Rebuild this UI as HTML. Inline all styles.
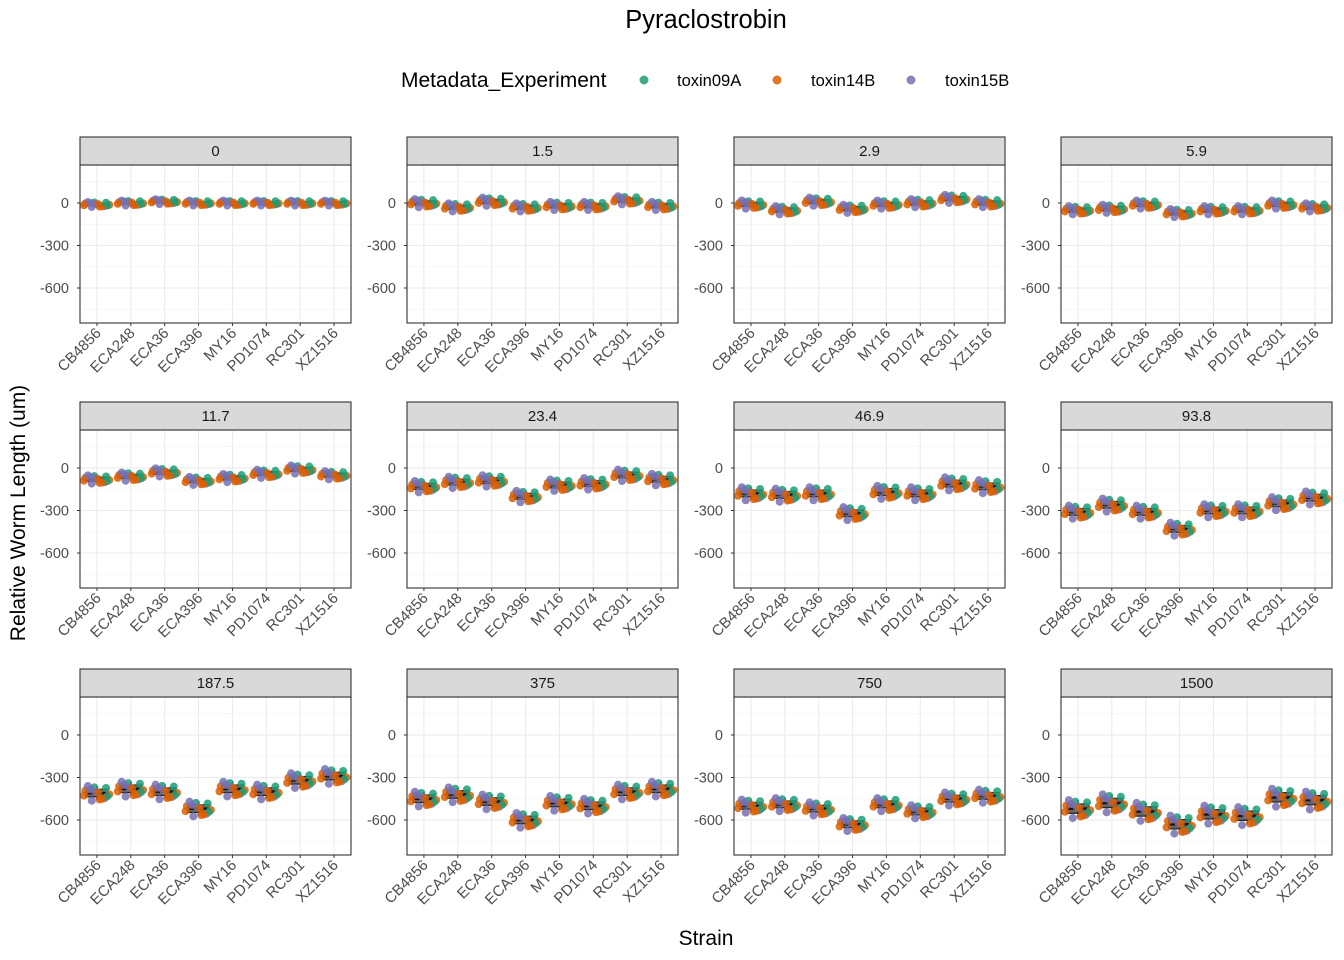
<!DOCTYPE html>
<html><head><meta charset="utf-8">
<style>
body{margin:0;background:#fff;}
svg{display:block;font-family:"Liberation Sans",Arial,sans-serif;}
</style></head>
<body>
<svg id="chart" width="1344" height="960" viewBox="0 0 1344 960" xmlns="http://www.w3.org/2000/svg">
<text x="706" y="28" font-size="25.5" text-anchor="middle" fill="#000">Pyraclostrobin</text>
<g>
<text x="401" y="87" font-size="21" fill="#000">Metadata_Experiment</text>
<circle cx="644" cy="80" r="4.5" fill="#1b9e77" fill-opacity="0.85"/>
<text x="677" y="86" font-size="16.5">toxin09A</text>
<circle cx="777" cy="80" r="4.5" fill="#d95f02" fill-opacity="0.85"/>
<text x="811" y="86" font-size="16.5">toxin14B</text>
<circle cx="911" cy="80" r="4.5" fill="#7570b3" fill-opacity="0.85"/>
<text x="945" y="86" font-size="16.5">toxin15B</text>
</g>
<text x="706" y="945" font-size="21" text-anchor="middle">Strain</text>
<text x="0" y="0" font-size="21" text-anchor="middle" transform="translate(25,513) rotate(-90)">Relative Worm Length (um)</text>
<g id="panels"></g>
</svg>
<script>
const strains = ["CB4856","ECA248","ECA36","ECA396","MY16","PD1074","RC301","XZ1516"];
const concentrations = ["0","1.5","2.9","5.9","11.7","23.4","46.9","93.8","187.5","375","750","1500"];
const yTicks = [0,-300,-600];
const medians0 = [-10,0,10,0,0,0,0,0];
const medians1 = [0,-30,10,-30,-20,-20,20,-20];
const medians2 = [-10,-50,10,-40,-10,0,30,0];
const medians3 = [-50,-40,-10,-70,-50,-50,-10,-30];
const medians4 = [-80,-60,-30,-90,-70,-40,-10,-50];
const medians5 = [-130,-100,-90,-200,-120,-110,-50,-80];
const medians6 = [-180,-190,-180,-320,-170,-180,-110,-130];
const medians7 = [-310,-260,-310,-430,-300,-300,-250,-210];
const medians8 = [-410,-380,-400,-520,-380,-400,-320,-290];
const medians9 = [-450,-420,-470,-600,-480,-500,-400,-380];
const medians10 = [-500,-490,-520,-630,-490,-540,-450,-430];
const medians11 = [-520,-480,-540,-630,-560,-570,-440,-460];
const medians = [medians0,medians1,medians2,medians3,medians4,medians5,medians6,medians7,medians8,medians9,medians10,medians11];
const spreads = [15,25,25,25,25,35,40,40,45,45,40,55];
const expColors = ["#1b9e77","#d95f02","#7570b3"];

// fixed jitter pattern (unit offsets) and experiment assignment
const jx = [-0.9,0.6,-0.2,0.95,-0.5,0.2,0.8,-0.7,0.4,-0.1,-1.0,0.7,0.1,-0.4];
const jy = [0.4,-0.8,0.9,-0.2,0.6,-1.0,-0.5,1.1,-0.9,0.2,-0.4,0.8,0.1,-1.2];
const je = [1,2,0,1,2,1,0,2,1,2,1,0,1,2];

const NS="http://www.w3.org/2000/svg";
const root=document.getElementById('panels');
function mk(tag,attrs,parent){const e=document.createElementNS(NS,tag);for(const k in attrs)e.setAttribute(k,attrs[k]);parent.appendChild(e);return e;}
const colX=[80,407,734,1061], pw=271;
const rowTop=[137,402,669];
const stripH=28, ph=158;
const yMax=268, yMin=-847;

for(let p=0;p<12;p++){
  const c=p%4, r=Math.floor(p/4);
  const x0=colX[c], sy=rowTop[r], y0=sy+stripH;
  const g=mk('g',{},root);
  
  
  const X=i=>x0+pw*(i+0.5)/strains.length;
  const Y=v=>y0+(yMax-v)/(yMax-yMin)*ph;
  mk('rect',{x:x0,y:y0,width:pw,height:ph,fill:'#fff'},g);
  [150,-150,-450,-750].forEach(v=>{mk('line',{x1:x0,x2:x0+pw,y1:Y(v),y2:Y(v),stroke:'#f2f2f2','stroke-width':0.6},g);});
  yTicks.forEach(v=>{
    const l=mk('line',{x1:x0,x2:x0+pw,y1:Y(v),y2:Y(v),stroke:'#ebebeb','stroke-width':1.1},g);
    
    const t=mk('text',{x:x0-11,y:Y(v)+5,'font-size':14.5,'text-anchor':'end',fill:'#4d4d4d'},g);
    t.textContent=v;
    
    
    mk('line',{x1:x0-3,x2:x0,y1:Y(v),y2:Y(v),stroke:'#333'},g);
  });
  strains.forEach((s,i)=>{
    mk('line',{x1:X(i),x2:X(i),y1:y0,y2:y0+ph,stroke:'#ebebeb','stroke-width':1.1},g);
  });
  const sp=spreads[p];
  strains.forEach((s,i)=>{
    const m=medians[p][i];
    const cx=X(i);
    const q1=m-sp*0.6, q3=m+sp*0.6;
    mk('line',{x1:cx,x2:cx,y1:Y(m+sp*1.1),y2:Y(m-sp*1.1),stroke:'#222','stroke-width':1.5},g);
    const b=mk('rect',{x:cx-11,y:Y(q3),width:22,height:Math.max(2,Y(q1)-Y(q3)),fill:'#555','fill-opacity':0.9,stroke:'#222','stroke-width':1.2},g);
    
    
    mk('line',{x1:cx-11,x2:cx+11,y1:Y(m),y2:Y(m),stroke:'#111','stroke-width':2.5},g);
    for(let k=0;k<jx.length;k++){
      const pt=mk('circle',{cx:cx+jx[k]*13,cy:Y(m+jy[k]*sp),r:4,fill:expColors[je[k]],'fill-opacity':0.85},g);
      
      
    }
    mk('line',{x1:cx,x2:cx,y1:y0+ph,y2:y0+ph+3,stroke:'#333'},g);
    const t=mk('text',{x:0,y:0,'font-size':15,'text-anchor':'end',fill:'#4d4d4d',transform:`translate(${cx+5},${y0+ph+11}) rotate(-45)`},g);
    t.textContent=s;
    
    
  });
  mk('rect',{x:x0,y:y0,width:pw,height:ph,fill:'none',stroke:'#333','stroke-width':1.1},g);
  const st=mk('rect',{x:x0,y:sy,width:pw,height:stripH,fill:'#d9d9d9',stroke:'#333','stroke-width':1.1},g);
  
  
  const tt=mk('text',{x:x0+pw/2,y:sy+19,'font-size':15,'text-anchor':'middle',fill:'#1a1a1a'},g);
  tt.textContent=concentrations[p];
  
  
}
</script>
</body></html>
